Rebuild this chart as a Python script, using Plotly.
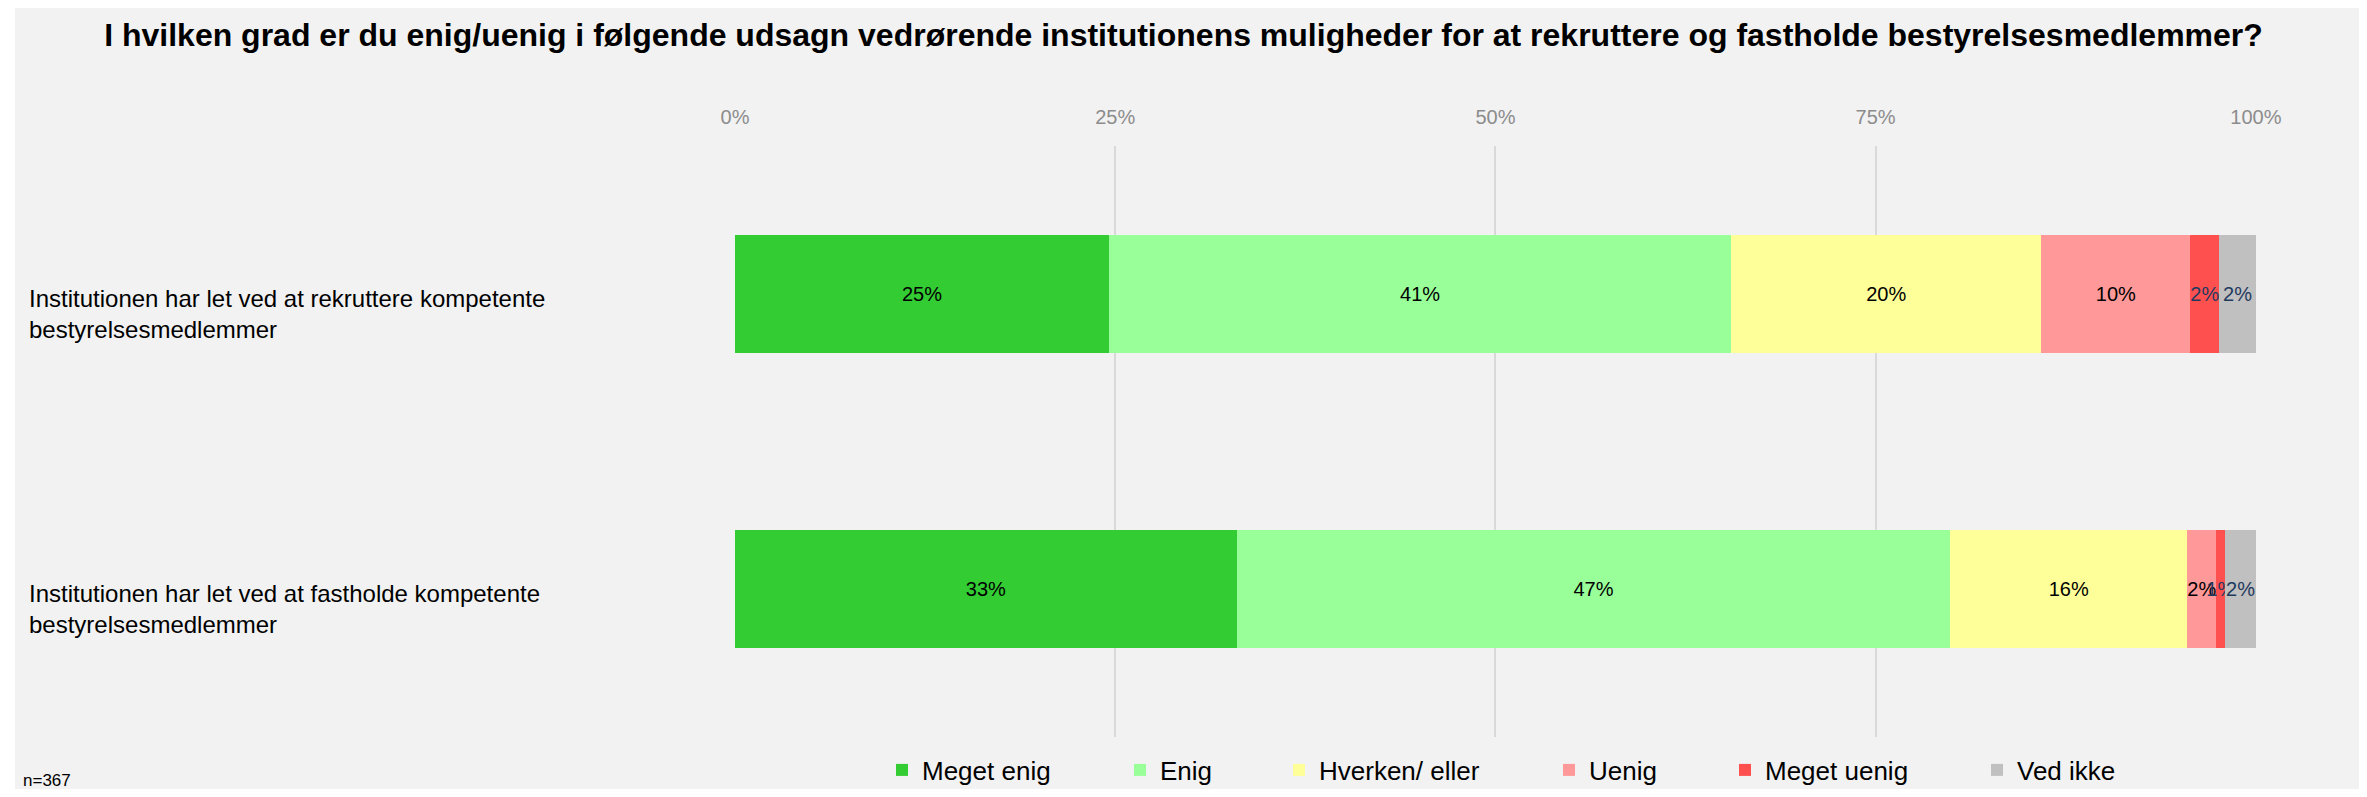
import plotly.graph_objects as go

# ---- data ----
categories = [
    "Institutionen har let ved at rekruttere kompetente<br>bestyrelsesmedlemmer",
    "Institutionen har let ved at fastholde kompetente<br>bestyrelsesmedlemmer",
]
series_names = ["Meget enig", "Enig", "Hverken/ eller", "Uenig", "Meget uenig", "Ved ikke"]
meget_enig = [24.6, 33.0]
enig = [40.9, 46.9]
hverken = [20.4, 15.6]
uenig = [9.8, 1.9]
meget_uenig = [1.9, 0.6]
ved_ikke = [2.4, 2.0]
tick_values = [0, 25, 50, 75, 100]
tick_labels = ["0%", "25%", "50%", "75%", "100%"]
title_text = ("I hvilken grad er du enig/uenig i følgende udsagn vedrørende institutionens "
              "muligheder for at rekruttere og fastholde bestyrelsesmedlemmer?")
note_text = "n=367"

# ---- styles ----
colors = ["#33cc33", "#99ff99", "#ffff99", "#ff9999", "#ff5050", "#c0c0c0"]
text_colors = ["#000000", "#000000", "#000000", "#000000", "#1f3a5f", "#1f3a5f"]
legend_widths = [193, 114, 225, 131, 207, 110]
FONT = "Liberation Sans, Arial, sans-serif"

# page body has an 8px margin; work in window pixels and convert
OFF = 8
W, H = 2367 - 2 * OFF, 797 - 2 * OFF
PLOT_X0, PLOT_X1, PLOT_Y0, PLOT_Y1 = 735, 2256, 146, 737  # window pixels
L = PLOT_X0 - OFF
R = W - (PLOT_X1 - OFF)
T = PLOT_Y0 - OFF
B = H - (PLOT_Y1 - OFF)
PW, PH = W - L - R, H - T - B


def px_x(px):
    return (px - OFF - L) / PW


def px_y(py):
    return (H - B - (py - OFF)) / PH


series_values = [meget_enig, enig, hverken, uenig, meget_uenig, ved_ikke]

fig = go.Figure()
for name, vals, col, tcol, lw in zip(series_names, series_values, colors, text_colors, legend_widths):
    fig.add_trace(go.Bar(
        x=vals, y=categories, name=name, orientation="h",
        marker=dict(color=col, line=dict(width=0)),
        width=0.4,
        text=[f"{round(v):.0f}%" for v in vals],
        texttemplate="%{text}",
        textposition="inside",
        insidetextanchor="middle",
        textangle=0,
        constraintext="none",
        insidetextfont=dict(color=tcol, size=20, family=FONT),
        cliponaxis=False,
        legendwidth=lw,
    ))

annotations = []
for cat in categories:
    annotations.append(dict(
        x=px_x(27), xref="paper", y=cat, yref="y", text=cat,
        xanchor="left", yanchor="middle", align="left", showarrow=False,
        yshift=-20, font=dict(size=24, color="#000000", family=FONT),
    ))
annotations.append(dict(
    x=px_x(22), xref="paper", y=px_y(780), yref="paper", text=note_text,
    xanchor="left", yanchor="middle", showarrow=False, borderpad=0,
    font=dict(size=17, color="#000000", family=FONT),
))

fig.update_layout(
    width=W, height=H,
    barmode="stack",
    paper_bgcolor="#ffffff",
    plot_bgcolor="rgba(0,0,0,0)",
    margin=dict(l=L, r=R, t=T, b=B, autoexpand=False),
    font=dict(family=FONT, color="#000000"),
    title=dict(text="<b>" + title_text + "</b>", x=0.5, xanchor="center",
               y=1 - (35 - OFF) / H, yanchor="middle", yref="container",
               font=dict(size=32, color="#000000", family=FONT)),
    xaxis=dict(range=[0, 100.01], side="top", tickvals=tick_values, ticktext=tick_labels,
               showgrid=True, gridcolor="#d9d9d9", gridwidth=1.5, zeroline=False,
               showline=False, ticks="", ticklabelstandoff=17,
               tickfont=dict(size=20, color="#8c8c8c", family=FONT), automargin=False,
               fixedrange=True),
    yaxis=dict(showticklabels=False, showgrid=False, zeroline=False, showline=False,
               autorange="reversed", automargin=False, fixedrange=True),
    bargap=0.6,
    showlegend=True,
    legend=dict(orientation="h", x=px_x(882), xanchor="left", y=px_y(770), yanchor="middle",
                traceorder="normal", bgcolor="rgba(0,0,0,0)", borderwidth=0,
                font=dict(size=26, color="#000000", family=FONT)),
    annotations=annotations,
    shapes=[dict(type="rect", xref="paper", yref="paper", layer="below",
                 x0=px_x(15), x1=px_x(2367), y0=px_y(797), y1=px_y(5),
                 fillcolor="#f2f2f2", line=dict(width=0))],
)

fig.write_html("out.html")
